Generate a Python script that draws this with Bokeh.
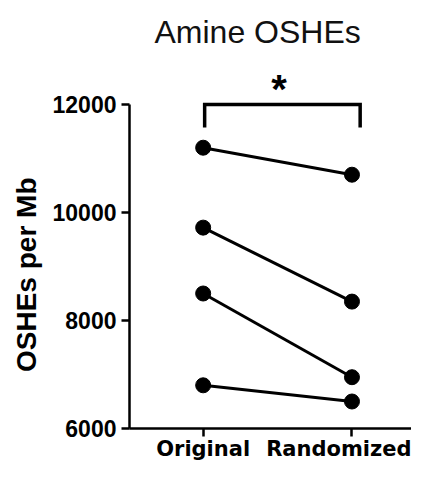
from bokeh.plotting import figure
from bokeh.models import FixedTicker, ColumnDataSource, Title
from bokeh.core.properties import value
from bokeh.embed import file_html
from bokeh.resources import INLINE

# ---- data ----
categories = ["Original", "Randomized"]
original = [11200, 9720, 8500, 6800]
randomized = [10700, 8350, 6950, 6500]
y_ticks = [6000, 8000, 10000, 12000]
title_text = "Amine OSHEs"
y_label = "OSHEs per Mb"
sig_text = "*"

p = figure(width=411, height=463, output_backend="svg", toolbar_location=None,
           x_range=(-0.495, 1.40), y_range=(6000, 12815),
           min_border_left=128, min_border_right=0, min_border_top=60,
           min_border_bottom=30)
p.outline_line_color = None
p.xgrid.visible = False
p.ygrid.visible = False
p.background_fill_color = "white"
p.border_fill_color = "white"

# title
p.title.text = title_text
p.title.text_font = "Liberation Sans"
p.title.text_font_size = "32px"
p.title.text_font_style = "normal"
p.title.text_color = "#111111"
p.title.text_line_height = 1.5
p.title.align = "left"
p.title.offset = 25
p.title.standoff = 21

# paired lines + points
xs = list(range(len(categories)))
for a, b in zip(original, randomized):
    src = ColumnDataSource(dict(x=xs, y=[a, b]))
    p.line("x", "y", source=src, line_color="black", line_width=3)
    p.scatter("x", "y", source=src, size=15, fill_color="black", line_color="black")

# significance bracket
br_top = y_ticks[-1]
br_bot = br_top - 425
p.line(x=[0.01, 0.01, 1.055, 1.055], y=[br_bot, br_top, br_top, br_bot],
       line_color="black", line_width=3.5, line_join="miter")
p.text(x=[0.51], y=[br_top + 285], text=[sig_text], text_font=value("Liberation Sans"),
       text_font_size="40px", text_font_style="bold", text_align="center",
       text_baseline="middle", text_color="black")

# axes
for ax in (p.xaxis[0], p.yaxis[0]):
    ax.axis_line_width = 2.5
    ax.axis_line_color = "black"
    ax.major_tick_line_width = 2.5
    ax.major_tick_line_color = "black"
    ax.major_tick_in = 0
    ax.major_tick_out = 8
    ax.minor_tick_line_color = None
    ax.major_label_text_color = "black"
    ax.major_label_text_font_style = "bold"
    ax.axis_label = None
    ax.axis_label_standoff = 0

p.yaxis.ticker = FixedTicker(ticks=y_ticks)
p.yaxis.bounds = (y_ticks[0], y_ticks[-1])
p.yaxis.major_label_text_font = "Liberation Sans"
p.yaxis.major_label_text_font_size = "23px"
p.yaxis.major_label_standoff = 5

p.xaxis.ticker = FixedTicker(ticks=xs)
p.xaxis.major_label_overrides = {i: c for i, c in enumerate(categories)}
p.xaxis.major_label_text_font = "DejaVu Sans"
p.xaxis.major_label_text_font_size = "21px"
p.xaxis.major_label_standoff = 0

# y-axis title as a side title, placed along the axis span
p.add_layout(Title(text=y_label, align="right", offset=117, standoff=16,
                   text_line_height=1.5,
                   text_font="Liberation Sans", text_font_size="28px",
                   text_font_style="bold", text_color="black"), "left")

open("out.html", "w").write(file_html(p, INLINE))
